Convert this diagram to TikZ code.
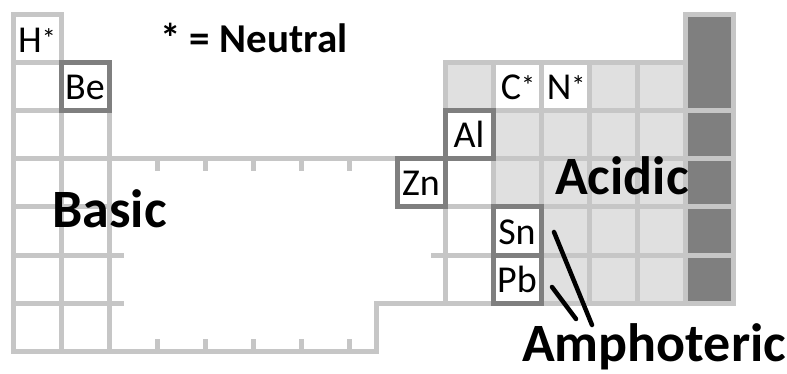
\documentclass[tikz,border=0pt]{standalone}
\usepackage{fontspec}
\setmainfont{Carlito}
\definecolor{gline}{HTML}{C6C6C6}
\definecolor{gfill}{HTML}{E0E0E0}
\definecolor{gdark}{HTML}{7F7F7F}
\newcommand{\nstar}{\raisebox{4pt}{\fontsize{28}{30}\selectfont *}}
\tikzset{
  gridline/.style={draw=gline,line width=5pt,line cap=rect,line join=miter},
  tickline/.style={draw=gline,line width=5pt,line cap=butt},
  darkbox/.style={draw=gdark,line width=5pt,line join=miter},
  elem/.style={anchor=base,inner sep=0pt,font=\fontsize{38}{42}\selectfont},
  biglabel/.style={anchor=base west,inner sep=0pt,font=\bfseries\fontsize{54}{58}\selectfont},
  keylabel/.style={anchor=base west,inner sep=0pt,font=\bfseries\fontsize{41}{45}\selectfont},
  pointer/.style={draw=black,line width=4.5pt,line cap=round}
}
\begin{document}
\begin{tikzpicture}[x=1pt,y=-1pt]
\useasboundingbox (0,0) rectangle (787,374);
% fills
\fill[gfill] (445,63) rectangle (685,303);
\fill[white] (493,63) rectangle (589,111);
\fill[white] (445,111) rectangle (493,303);
\fill[white] (493,207) rectangle (541,303);
\fill[gdark] (685,15) rectangle (733,303);
% left block grid
\draw[gridline] (13,15) rectangle (61,63);
\foreach \yy in {63,111,159,207} \draw[gridline] (13,\yy) -- (109,\yy);
\foreach \yy in {255,303} \draw[gridline] (13,\yy) -- (121,\yy);
\draw[gridline] (13,15) -- (13,351);
\draw[gridline] (61,15) -- (61,351);
\draw[gridline] (109,63) -- (109,351);
% d block outline
\draw[gridline] (109,159) -- (397,159);
\draw[gridline] (13,351) -- (376,351) -- (376,303) -- (733,303);
\foreach \xx in {157,205,253,301,349} {
  \draw[tickline] (\xx,159) -- (\xx,171);
  \draw[tickline] (\xx,351) -- (\xx,339);
}
\draw[gridline] (433,255) -- (445,255);
% p block grid
\draw[gridline] (445,63) -- (685,63);
\foreach \yy in {111,159,207,255} \draw[gridline] (445,\yy) -- (733,\yy);
\foreach \xx in {445,493,541,589,637,685} \draw[gridline] (\xx,63) -- (\xx,303);
\draw[gridline] (685,15) rectangle (733,303);
% highlighted elements
\draw[darkbox] (61,63) rectangle (109,111);
\draw[darkbox] (445,111) rectangle (493,159);
\draw[darkbox] (397,159) rectangle (445,207);
\draw[darkbox] (493,207) rectangle (541,255);
\draw[darkbox] (493,255) rectangle (541,303);
% element symbols
\node[elem] (H) at (37,53) {H\nstar};
\node[elem] (Be) at (85,100) {Be};
\node[elem] (C) at (518,100) {C\nstar};
\node[elem] (N) at (566,100) {N\nstar};
\node[elem] (Al) at (469,148) {Al};
\node[elem] (Zn) at (421,196) {Zn};
\node[elem] (Sn) at (517,244) {Sn};
\node[elem] (Pb) at (517,292) {Pb};
% labels
\node[keylabel] (neutral) at (160,53) {* = Neutral};
\node[biglabel] (basic) at (52,227) {Basic};
\node[biglabel] (acidic) at (555,195) {Acidic};
\node[biglabel] (amph) at (522,361) {Amphoteric};
% pointers
\coordinate (snp) at (554,232);
\coordinate (snq) at (592,325);
\coordinate (pbp) at (552,287);
\coordinate (pbq) at (576,319);
\draw[pointer] (snp) -- (snq);
\draw[pointer] (pbp) -- (pbq);
\end{tikzpicture}
\end{document}
